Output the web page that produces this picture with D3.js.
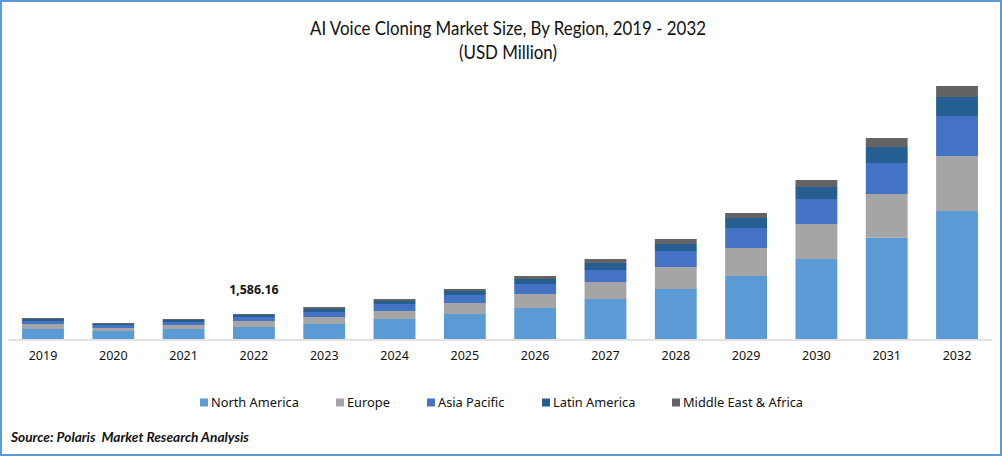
<!DOCTYPE html>
<html><head><meta charset="utf-8">
<script src="https://cdn.jsdelivr.net/npm/d3@7"></script>
<style>html,body{margin:0;padding:0;background:#fff}svg{display:block}</style>
</head><body><svg id="c" width="1002" height="456"></svg>
<script>
const years = ["2019","2020","2021","2022","2023","2024","2025","2026","2027","2028","2029","2030","2031","2032"];
const regions = ["North America","Europe","Asia Pacific","Latin America","Middle East & Africa"];
const northAmerica = [634,508,634,761,952,1269,1586,1967,2538,3172,3997,5075,6427,8120];
const europe = [317,190,254,381,444,508,698,888,1078,1396,1776,2220,2772,3489];
const asiaPacific = [190,190,190,254,317,444,508,634,761,1015,1269,1586,1967,2538];
const latinAmerica = [127,63,127,127,190,190,254,317,444,444,634,761,1015,1205];
const middleEastAfrica = [63,63,63,63.16,127,127,127,190,254,317,317,444,571,698];
const colors = ["#5B9BD5","#A5A5A5","#4472C4","#255E91","#636363"];
const annotatedYear = "2022", annotatedLabel = "1,586.16";
const titleLines = ["AI Voice Cloning Market Size, By Region, 2019 - 2032","(USD Million)"];
const titleWidths = [396,98];
const sourceText = "Source: Polaris  Market Research Analysis";
const legendX = [200,336,427,542,672];

const seriesValues = [northAmerica,europe,asiaPacific,latinAmerica,middleEastAfrica];
const table = years.map((y,i)=>{const r={year:y};regions.forEach((k,j)=>r[k]=seriesValues[j][i]);return r;});
const stacked = d3.stack().keys(regions)(table);
const svg = d3.select("#c");
const W=1002,H=456,base=339,topY=86;
const x = d3.scaleBand().domain(years).range([8,992]).paddingInner(0.405).paddingOuter(0.2);
const y = d3.scaleLinear().domain([0,d3.max(stacked[4],d=>d[1])]).range([base,topY]);
const color = d3.scaleOrdinal(regions,colors);

svg.append("rect").attr("x",1).attr("y",1).attr("width",W-2).attr("height",H-2)
  .attr("fill","#fff").attr("stroke","#5B9BD5").attr("stroke-width",2);

svg.append("g").selectAll("text").data(titleLines).join("text")
  .attr("x",508).attr("y",(d,i)=>35+i*23.5).attr("text-anchor","middle")
  .attr("font-family","Lato").attr("font-size",18.5).attr("fill","#111")
  .attr("textLength",(d,i)=>titleWidths[i]).attr("lengthAdjust","spacingAndGlyphs").text(d=>d);

svg.append("g").selectAll("g").data(stacked).join("g").attr("fill",d=>color(d.key))
  .selectAll("rect").data(d=>d).join("rect")
  .attr("x",d=>x(d.data.year)).attr("width",x.bandwidth())
  .attr("y",d=>y(d[1])).attr("height",d=>y(d[0])-y(d[1]));

const ax = svg.append("g").attr("transform",`translate(0,${base+0.5})`)
  .call(d3.axisBottom(x).tickSize(0).tickPadding(12));
ax.select(".domain").attr("stroke","#D9D9D9").attr("stroke-width",1.5);
ax.selectAll("text").attr("font-family","Noto Sans").attr("font-size",12.5).attr("fill","#111");

const total = d => d3.sum(seriesValues,s=>s[years.indexOf(d)]);
svg.append("text").attr("x",x(annotatedYear)+x.bandwidth()/2).attr("y",y(total(annotatedYear))-20)
  .attr("text-anchor","middle").attr("font-family","Noto Sans").attr("font-weight","bold")
  .attr("font-size",12.4).attr("fill","#111").text(annotatedLabel);

const lg = svg.append("g").selectAll("g").data(regions).join("g")
  .attr("transform",(d,i)=>`translate(${legendX[i]},398.5)`);
lg.append("rect").attr("width",8).attr("height",8).attr("fill",d=>color(d));
lg.append("text").attr("x",11).attr("y",8.5).attr("font-family","Noto Sans").attr("font-size",12.8)
  .attr("fill","#111").text(d=>d);

svg.append("text").attr("x",11).attr("y",441.5).attr("font-family","Lato").attr("font-weight","bold")
  .attr("font-style","italic").attr("font-size",13.7).attr("fill","#111")
  .style("white-space","pre").text(sourceText);
</script></body></html>
